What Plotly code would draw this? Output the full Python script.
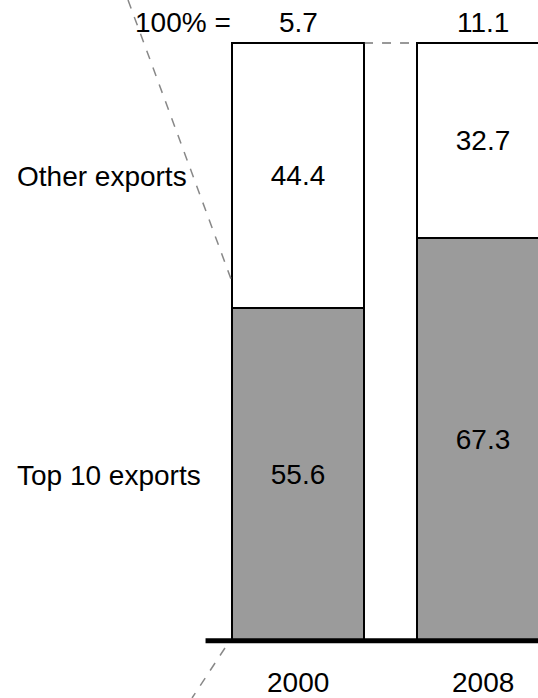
import plotly.graph_objects as go

years = ["2000", "2008"]
top10 = [55.6, 67.3]
other = [44.4, 32.7]
totals = ["5.7", "11.1"]
series_names = ["Top 10 exports", "Other exports"]

FONT = "Liberation Sans, Arial, Helvetica, sans-serif"
FS = 28
GREY = "#9b9b9b"
BAR_W = 0.7135
Y_MIN, Y_MAX = -9.72, 107.2

fig = go.Figure()
fig.add_trace(go.Bar(
    x=years, y=top10, name=series_names[0], width=BAR_W,
    marker=dict(color=GREY, line=dict(color="black", width=2)),
    text=[f"{v:.1f}" for v in top10], textposition="inside",
    insidetextanchor="middle", textangle=0, constraintext="none",
    textfont=dict(family=FONT, size=FS, color="black"),
))
fig.add_trace(go.Bar(
    x=years, y=other, name=series_names[1], width=BAR_W,
    marker=dict(color="white", line=dict(color="black", width=2)),
    text=[f"{v:.1f}" for v in other], textposition="inside",
    insidetextanchor="middle", textangle=0, constraintext="none",
    textfont=dict(family=FONT, size=FS, color="black"),
))

annotations = []
annotations.append(dict(x=15/538, xref="paper", y=top10[0] + other[0] / 2, yref="y",
                        text=series_names[1], showarrow=False, xanchor="left", yanchor="middle",
                        yshift=-1))
annotations.append(dict(x=15/538, xref="paper", y=top10[0] / 2, yref="y",
                        text=series_names[0], showarrow=False, xanchor="left", yanchor="middle",
                        yshift=-1))
annotations.append(dict(x=-BAR_W / 2, xref="x", y=103.5, yref="y", text="100% =",
                        showarrow=False, xanchor="right", xshift=1, yanchor="middle"))
for i, t in enumerate(totals):
    annotations.append(dict(x=i, xref="x", y=103.5, yref="y", text=t,
                            showarrow=False, xanchor="center", yanchor="middle"))
for i, yr in enumerate(years):
    annotations.append(dict(x=i, xref="x", y=-7.2, yref="y", text=yr,
                            showarrow=False, xanchor="center", yanchor="middle"))

shapes = [
    dict(type="line", xref="x", yref="y", x0=-0.5, x1=1.6, y0=-0.15, y1=-0.15,
         line=dict(color="black", width=5)),
    dict(type="line", xref="x", yref="y", x0=BAR_W / 2, x1=1 - BAR_W / 2, y0=100, y1=100,
         line=dict(color="#333333", width=1.2, dash="dash")),
    dict(type="line", xref="x", yref="y", x0=-0.919, y0=Y_MAX, x1=-BAR_W / 2, y1=60,
         line=dict(color="#888888", width=1.5, dash="dash")),
    dict(type="line", xref="x", yref="y", x0=-0.395, y0=-1.34, x1=-0.573, y1=Y_MIN,
         line=dict(color="#888888", width=1.5, dash="dash")),
]

fig.add_trace(go.Scatter(x=[-0.5], y=[-0.15], mode="markers", hoverinfo="skip",
                         marker=dict(color="black", size=5), showlegend=False))

fig.update_layout(
    barmode="stack",
    width=538, height=698,
    margin=dict(l=0, r=0, t=0, b=0),
    paper_bgcolor="white", plot_bgcolor="white",
    showlegend=False,
    font=dict(family=FONT, size=FS, color="black"),
    xaxis=dict(type="category", range=[-1.611, 1.297], visible=False, fixedrange=True),
    yaxis=dict(range=[Y_MIN, Y_MAX], visible=False, fixedrange=True),
    annotations=annotations,
    shapes=shapes,
)

fig.write_html("out.html", config={"displayModeBar": False})

with open("out.html", "r", encoding="utf-8") as f:
    html = f.read()
html = html.replace("<body>", '<body style="margin:0;padding:0;overflow:hidden">', 1)
with open("out.html", "w", encoding="utf-8") as f:
    f.write(html)
